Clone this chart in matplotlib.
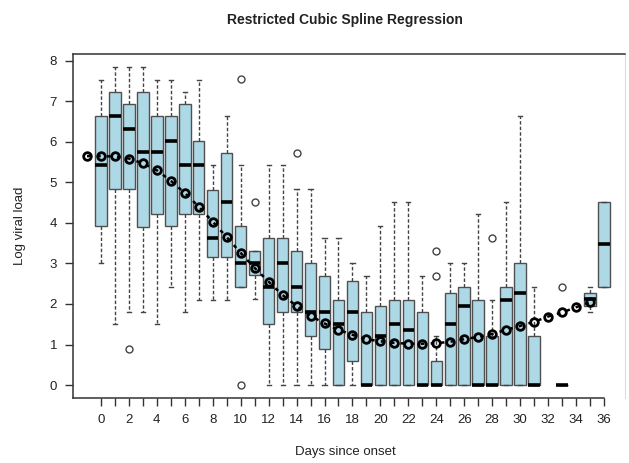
#!/usr/bin/env python3
"""Boxplots of log viral load by day since onset, with RCS fit"""

import matplotlib
matplotlib.use('Agg')
import matplotlib.pyplot as plt

plt.rcParams['font.family'] = ['Liberation Sans', 'DejaVu Sans']

# Box statistics per day (days 32 and 34 have no observations)
box_days = list(range(0, 32)) + [33, 35, 36]
whislo = [3.02, 1.50, 1.81, 1.81, 1.50, 2.41, 1.81, 2.11, 2.11, 2.11,
          2.41, 2.13, 0, 0, 0, 0, 0, 0, 0, 0,
          0, 0, 0, 0, 0, 0, 0, 0, 0, 0,
          0, 0, 0, 1.81, 2.41]
q1 = [3.93, 4.83, 4.83, 3.91, 4.22, 3.93, 4.23, 4.23, 3.16, 3.16,
      2.41, 2.71, 1.50, 1.81, 1.81, 1.21, 0.90, 0, 0.59, 0,
      0, 0, 0, 0, 0, 0, 0, 0, 0, 0,
      0, 0, 0, 1.96, 2.41]
med = [5.42, 6.64, 6.33, 5.74, 5.74, 6.03, 5.43, 5.43, 3.62, 4.51,
       3.01, 3.01, 2.41, 3.00, 2.41, 1.81, 1.81, 1.50, 1.81, 0,
       1.21, 1.50, 1.36, 0, 0, 1.50, 1.96, 0, 0, 2.11,
       2.26, 0, 0, 2.13, 3.48]
q3 = [6.63, 7.23, 6.93, 7.23, 6.63, 6.63, 6.93, 6.03, 4.82, 5.72,
      3.93, 3.31, 3.62, 3.62, 3.31, 3.00, 2.70, 2.11, 2.56, 1.81,
      1.96, 2.11, 2.11, 1.81, 0.59, 2.26, 2.41, 2.11, 1.21, 2.41,
      3.00, 1.21, 0, 2.26, 4.52]
whishi = [7.53, 7.86, 7.86, 7.86, 7.53, 7.53, 7.24, 7.54, 5.43, 6.64,
          5.43, 3.31, 5.43, 5.43, 4.83, 4.83, 3.62, 3.62, 3.00, 2.70,
          3.93, 4.52, 4.52, 2.70, 1.21, 3.02, 3.02, 4.22, 2.11, 4.52,
          6.64, 2.41, 0, 2.41, 4.52]
outliers = {2: [0.90], 10: [7.55, 0.0], 11: [4.52], 14: [5.73],
            24: [3.31, 2.70], 28: [3.62], 33: [2.41]}

# Restricted cubic spline fitted values
fit_days = list(range(-1, 36))
fit_vals = [5.65, 5.65, 5.64, 5.59, 5.47, 5.30, 5.04, 4.74, 4.40, 4.03,
            3.65, 3.26, 2.89, 2.55, 2.22, 1.95, 1.71, 1.52, 1.36, 1.24,
            1.13, 1.08, 1.04, 1.02, 1.02, 1.03, 1.07, 1.13, 1.19, 1.26,
            1.36, 1.46, 1.56, 1.69, 1.79, 1.92, 2.04]

stats = []
for i, d in enumerate(box_days):
    stats.append({'med': med[i], 'q1': q1[i], 'q3': q3[i],
                  'whislo': whislo[i], 'whishi': whishi[i],
                  'fliers': outliers.get(d, [])})

fig = plt.figure(figsize=(6.29, 4.63), dpi=100)
ax = fig.add_axes([0.1161, 0.1404, 0.8776, 0.7430])

ax.bxp(stats, positions=box_days, widths=0.82, capwidths=0.3,
       patch_artist=True, manage_ticks=False,
       boxprops=dict(facecolor='#add8e6', edgecolor='#505050', linewidth=1.0),
       medianprops=dict(color='black', linewidth=2.6, solid_capstyle='butt'),
       whiskerprops=dict(color='#444444', linewidth=1.0, linestyle=(0, (2.5, 1.5))),
       capprops=dict(color='#444444', linewidth=1.0),
       flierprops=dict(marker='o', markersize=5, markerfacecolor='none',
                       markeredgecolor='#444444', markeredgewidth=1.0))

# spline fit: dashed line with open circles
ax.plot(fit_days, fit_vals, color='black', linewidth=1.8,
        linestyle=(0, (1.5, 2.5)), zorder=4)
ax.plot(fit_days, fit_vals, linestyle='none', marker='o', markersize=5.5,
        markerfacecolor='none', markeredgecolor='black',
        markeredgewidth=2.0, zorder=5)

ax.set_xlim(-2.0, 37.51)
ax.set_ylim(-0.32, 8.17)

ax.set_xticks(range(0, 37))
ax.set_xticklabels([str(d) if d % 2 == 0 else '' for d in range(0, 37)])
ax.set_yticks(range(0, 9))
ax.tick_params(axis='both', direction='out', length=5.5, width=1.0,
               color='#333333', labelsize=9.5, labelcolor='#222222')
ax.tick_params(axis='x', pad=6)
ax.tick_params(axis='y', pad=6)

for side in ['left', 'top', 'bottom']:
    ax.spines[side].set_color('#333333')
    ax.spines[side].set_linewidth(1.1)
ax.spines['right'].set_color('#dddddd')
ax.spines['bottom'].set_bounds(-2.0, 36)

fig.text(345 / 629, 1 - 20 / 463, 'Restricted Cubic Spline Regression',
         ha='center', va='center', fontsize=10, fontweight='bold',
         color='#222222')
fig.text(345 / 629, 1 - 452 / 463, 'Days since onset',
         ha='center', va='center', fontsize=9.5, color='#222222')
fig.text(20 / 629, 1 - 226 / 463, 'Log viral load', rotation=90,
         ha='center', va='center', fontsize=9.5, color='#222222')

plt.savefig('out.png', dpi=100)
